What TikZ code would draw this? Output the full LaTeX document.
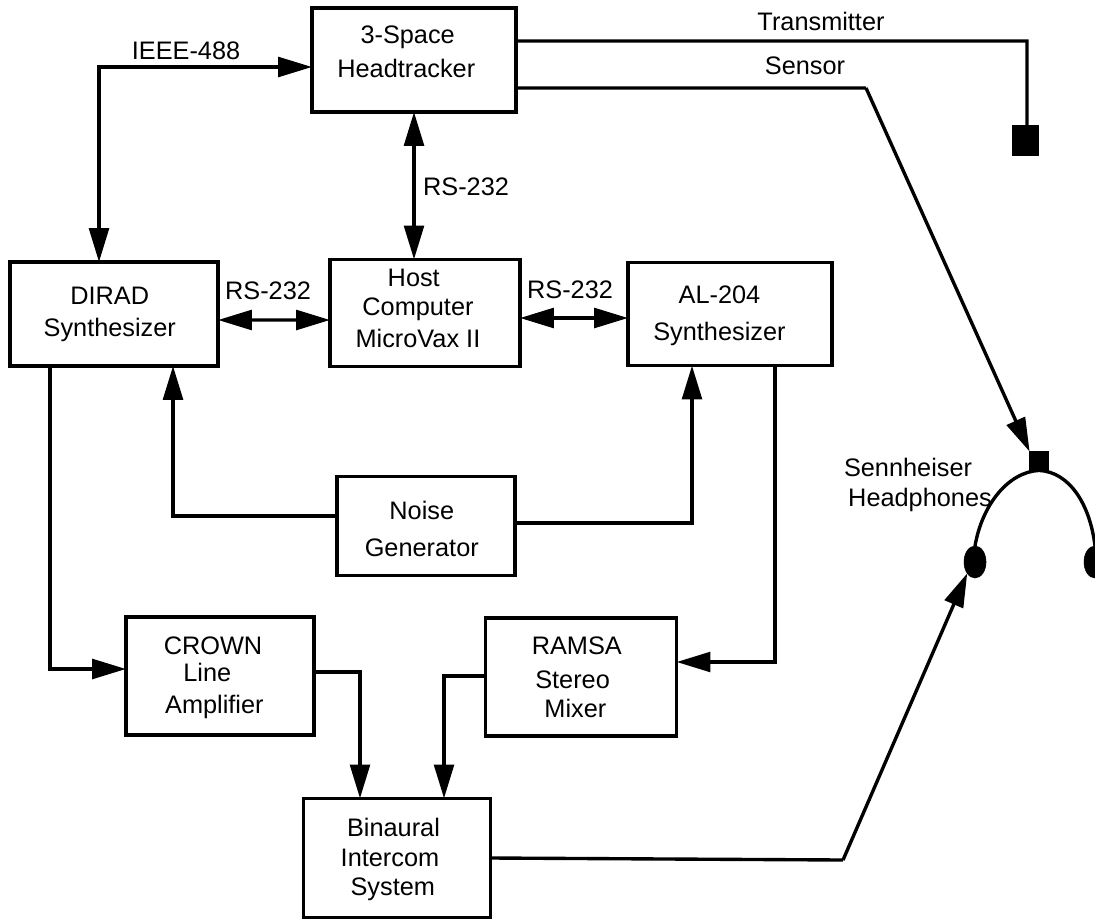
\documentclass[tikz,border=0pt]{standalone}
\usepackage{fontspec}
\setmainfont{Liberation Sans}
\usetikzlibrary{arrows.meta,shapes}

\begin{document}
\begin{tikzpicture}[
  x=0.025cm,y=-0.025cm,
  block/.style={draw,line width=2.6pt,outer sep=0pt,align=center,font=\fontsize{18}{22.7}\selectfont,minimum width=4.7cm,minimum height=2.95cm},
  lbl/.style={font=\fontsize{18}{21}\selectfont,inner sep=0pt},
  conn/.style={line width=2.4pt},
  arr/.style={conn,-{Triangle[length=24pt,width=14pt]}},
  biarr/.style={conn,{Triangle[length=24pt,width=14pt]}-{Triangle[length=24pt,width=14pt]}}
]
\useasboundingbox (0,0) rectangle (1095,919);

% boxes
\node[block,minimum width=5.1cm,minimum height=2.6cm] (tracker) at (414,60) {\hspace*{-9pt}3-Space\\[2pt]\hspace*{-11pt}Headtracker\rule[-12pt]{0pt}{12pt}};
\node[block,minimum width=5.2cm,minimum height=2.6cm] (dirad) at (114,314) {\hspace*{-6pt}DIRAD\\\hspace*{-6pt}Synthesizer};
\node[block,minimum width=4.75cm,minimum height=2.68cm] (host) at (425,313) {\hspace*{-16pt}Host\\[-2pt]\hspace*{-10pt}Computer\\\hspace*{-10pt}MicroVax II\rule[-7pt]{0pt}{7pt}};
\node[block,minimum width=5.1cm,minimum height=2.58cm] (al) at (730,314) {\rule{0pt}{15pt}\hspace*{-15pt}AL-204\\[4pt]\hspace*{-15pt}Synthesizer};
\node[block,minimum width=4.45cm,minimum height=2.48cm] (noise) at (426,526) {\rule{0pt}{17pt}\hspace*{-6pt}Noise\\[4pt]\hspace*{-6pt}Generator};
\node[block] (crown) at (220,676) {\rule{0pt}{15pt}\hspace*{-10pt}CROWN\\[-4pt]\hspace*{-18pt}Line\\[0pt]\hspace*{-8pt}Amplifier};
\node[block,minimum width=4.78cm] (ramsa) at (581,677) {\hspace*{-6pt}RAMSA\\[1.5pt]\hspace*{-12pt}Stereo\\[-2pt]\hspace*{-8pt}Mixer};
\node[block,minimum width=4.68cm,minimum height=2.98cm] (intercom) at (397,858) {\rule{0pt}{15pt}\hspace*{-5pt}Binaural\\[-1pt]\hspace*{-10pt}Intercom\\[-2pt]\hspace*{-6pt}System};

% transmitter and headphones
\node[draw,fill=black,minimum width=0.65cm,minimum height=0.75cm,inner sep=0pt,outer sep=0pt] (trans) at (1025,140) {};
\node[draw,fill=black,minimum size=0.47cm,inner sep=0pt,outer sep=0pt] (sens) at (1039,461) {};
\node[draw,fill=black,ellipse,minimum width=0.55cm,minimum height=0.8cm,inner sep=0pt,outer sep=0pt] (earl) at (975,562) {};
\node[draw,fill=black,ellipse,minimum width=0.55cm,minimum height=0.8cm,inner sep=0pt,outer sep=0pt] (earr) at (1095,562) {};
\draw[conn] (earl.north) .. controls (982,505) and (1008,472) .. (sens.south) .. controls (1070,472) and (1090,505) .. (earr.north);

% connectors
\coordinate (ieeecorner) at (99,67);
\draw[biarr] (dirad.north -| ieeecorner) -- (ieeecorner) -- (tracker.west |- ieeecorner);
\draw[biarr] (tracker.south) -- (host.north -| tracker.south);
\draw[biarr] ([yshift=-0.15cm]dirad.east) -- (host.west |- 0,320);
\draw[biarr] (host.east |- 0,318) -- (al.west |- 0,318);
\draw[arr] ([yshift=0.25cm]noise.west) -| ([xshift=1.475cm]dirad.south);
\draw[arr] ([yshift=0.075cm]noise.east) -| ([xshift=-0.95cm]al.south);
\draw[arr] ([xshift=1.125cm]al.south) |- ([yshift=0.375cm]ramsa.east);
\draw[arr] ([xshift=-1.6cm]dirad.south) |- ([yshift=0.175cm]crown.west);
\draw[arr] ([yshift=0.1cm]crown.east) -| ([xshift=-0.925cm]intercom.north);
\draw[arr] ([yshift=0.025cm]ramsa.west) -| ([xshift=1.175cm]intercom.north);
\coordinate (tcorner) at (1027,41);
\draw[conn] ([yshift=0.475cm]tracker.east) -- (tcorner) -- (trans.north -| tcorner);
\coordinate (bend) at (866,88);
\draw[conn] ([yshift=-0.7cm]tracker.east) -- (bend);
\draw[arr] (bend) -- (sens.north west);
\coordinate (knee) at (843,860);
\draw[conn] (intercom.east) -- (knee);
\draw[arr] (knee) -- (earl.south west);

% labels
\node[lbl] (ieee) at (186,51) {IEEE-488};
\node[lbl] (rsa) at (466,187) {RS-232};
\node[lbl] (rsb) at (268,291) {RS-232};
\node[lbl] (rsc) at (570,290) {RS-232};
\node[lbl] (tlbl) at (821,21) {Transmitter};
\node[lbl] (slbl) at (805,66) {Sensor};
\node[lbl,align=left] (hlbl) at (920,485) {\hspace*{-3pt}Sennheiser\\Headphones};
\end{tikzpicture}
\end{document}
